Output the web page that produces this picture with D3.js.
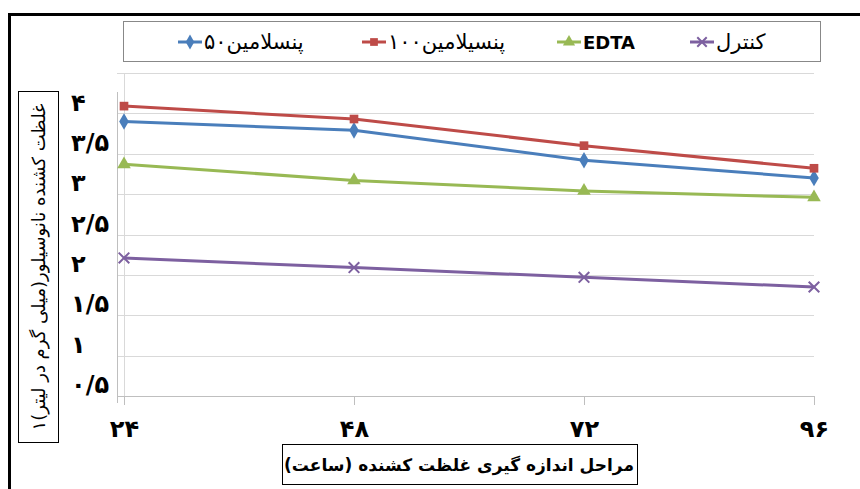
<!DOCTYPE html>
<html>
<head>
<meta charset="utf-8">
<script src="https://cdn.jsdelivr.net/npm/d3@7/dist/d3.min.js"></script>
<style>
  html, body { margin: 0; padding: 0; background: #fff; }
  svg { display: block; }
</style>
</head>
<body>
<svg id="chart" width="860" height="489"></svg>
<script>
// ---- data ----
const categories = [24, 48, 72, 96];
const xTickLabels = ["۲۴", "۴۸", "۷۲", "۹۶"];
const yTickValues = [0.5, 1, 1.5, 2, 2.5, 3, 3.5, 4];
const yTickLabels = ["۰/۵", "۱", "۱/۵", "۲", "۲/۵", "۳", "۳/۵", "۴"];
const seriesNames = ["پنسلامین۵۰", "پنسیلامین۱۰۰", "EDTA", "کنترل"];
const penicillamine50 = [3.40, 3.29, 2.92, 2.70];
const penicillamine100 = [3.59, 3.43, 3.10, 2.82];
const edta = [2.87, 2.67, 2.54, 2.46];
const control = [1.71, 1.59, 1.47, 1.35];
const xTitle = "مراحل اندازه گیری غلظت کشنده (ساعت)";
const yTitle = "غلظت کشنده نانوسیلور(میلی گرم در لیتر)۱";

const series = [
  { name: seriesNames[0], values: penicillamine50, color: "#4a7ebb", symbol: d3.symbolDiamond, size: 80 },
  { name: seriesNames[1], values: penicillamine100, color: "#be4b48", symbol: d3.symbolSquare, size: 75 },
  { name: seriesNames[2], values: edta, color: "#98b954", symbol: d3.symbolTriangle, size: 80 },
  { name: seriesNames[3], values: control, color: "#7d60a0", symbol: d3.symbolX, size: 75 }
];

const svg = d3.select("#chart");
const FONT = "DejaVu Sans, Noto Sans, sans-serif";

// outer frame
svg.append("rect").attr("x", 9.5).attr("y", 14.5).attr("width", 900).attr("height", 500)
  .attr("fill", "none").attr("stroke", "#000").attr("stroke-width", 3);

const x = d3.scalePoint().domain(categories).range([124, 814]);
const y = d3.scaleLinear().domain([0, 4]).range([396, 73]);
const plotLeft = 117, plotRight = 814;

// gridlines
svg.append("g").selectAll("line").data(yTickValues).join("line")
  .attr("x1", plotLeft).attr("x2", plotRight)
  .attr("y1", d => Math.round(y(d)) + 0.5).attr("y2", d => Math.round(y(d)) + 0.5)
  .attr("stroke", "#d9d9d9").attr("stroke-width", 1);

// vertical line at first category
svg.append("line").attr("x1", x(24) + 0.5).attr("x2", x(24) + 0.5)
  .attr("y1", y(4)).attr("y2", 405).attr("stroke", "#d9d9d9");

// y axis line
svg.append("line").attr("x1", plotLeft + 0.5).attr("x2", plotLeft + 0.5)
  .attr("y1", 92).attr("y2", 403).attr("stroke", "#bfbfbf");

// x axis
const xAxis = d3.axisBottom(x).tickSize(9).tickFormat((d, i) => xTickLabels[i]);
const gx = svg.append("g").attr("transform", `translate(0,${y(0)})`).call(xAxis);
gx.select(".domain").attr("stroke", "#bfbfbf").attr("d", `M${plotLeft},0.5H${plotRight}`);
gx.selectAll(".tick line").attr("stroke", "#bfbfbf");
gx.selectAll(".tick text").attr("font-family", FONT).attr("font-weight", "bold")
  .attr("font-size", 24).attr("fill", "#000").attr("dy", "1.2em");

// y axis (labels only)
const yAxis = d3.axisLeft(y).tickValues(yTickValues).tickSize(0)
  .tickFormat((d, i) => yTickLabels[i]);
const gy = svg.append("g").attr("transform", `translate(${plotLeft},0)`).call(yAxis);
gy.select(".domain").remove();
gy.selectAll(".tick text").attr("font-family", FONT).attr("font-weight", "bold")
  .attr("font-size", 24).attr("fill", "#000")
  .attr("text-anchor", "start").attr("x", -46).attr("dy", 37);

// lines
const line = d3.line().x((d, i) => x(categories[i])).y(d => y(d));
series.forEach(s => {
  svg.append("path").datum(s.values).attr("d", line)
    .attr("fill", "none").attr("stroke", s.color).attr("stroke-width", 3)
    .attr("stroke-linejoin", "round");
  svg.append("g").selectAll("path").data(s.values).join("path")
    .attr("transform", (d, i) => `translate(${x(categories[i])},${y(d)})`)
    .attr("d", d3.symbol().type(s.symbol).size(s.size))
    .attr("fill", s.color)
    .attr("stroke", s.symbol === d3.symbolX ? s.color : "none")
    .attr("stroke-width", s.symbol === d3.symbolX ? 2 : 0);
});

// legend
svg.append("rect").attr("x", 123.5).attr("y", 21.5).attr("width", 697).attr("height", 40)
  .attr("fill", "#fff").attr("stroke", "#888").attr("stroke-width", 1);
const legendX = [178, 362, 557, 690];
series.forEach((s, i) => {
  const g = svg.append("g").attr("transform", `translate(${legendX[i]},42)`);
  g.append("line").attr("x1", 0).attr("x2", 24).attr("y1", 0).attr("y2", 0)
    .attr("stroke", s.color).attr("stroke-width", 3);
  g.append("path").attr("transform", "translate(12,0)")
    .attr("d", d3.symbol().type(s.symbol).size(s.size * 0.8))
    .attr("fill", s.color)
    .attr("stroke", s.symbol === d3.symbolX ? s.color : "none")
    .attr("stroke-width", s.symbol === d3.symbolX ? 2 : 0);
  g.append("text").attr("x", 26).attr("y", 7)
    .attr("font-family", FONT).attr("font-size", i === 2 ? 18 : 21)
    .attr("font-weight", i === 2 ? "bold" : "normal")
    .attr("fill", "#000").text(s.name);
});

// y title
svg.append("rect").attr("x", 18.5).attr("y", 91.5).attr("width", 40).attr("height", 351)
  .attr("fill", "#fff").attr("stroke", "#000").attr("stroke-width", 1);
svg.append("text").attr("transform", "translate(45,267) rotate(-90)")
  .attr("text-anchor", "middle").attr("font-family", FONT).attr("font-size", 18)
  .attr("fill", "#000").text(yTitle);

// x title
svg.append("rect").attr("x", 282.5).attr("y", 444.5).attr("width", 355).attr("height", 40)
  .attr("fill", "#fff").attr("stroke", "#000").attr("stroke-width", 1);
svg.append("text").attr("x", 459).attr("y", 471)
  .attr("text-anchor", "middle").attr("font-family", FONT).attr("font-size", 17)
  .attr("font-weight", "bold").attr("fill", "#000").text(xTitle);
</script>
</body>
</html>
